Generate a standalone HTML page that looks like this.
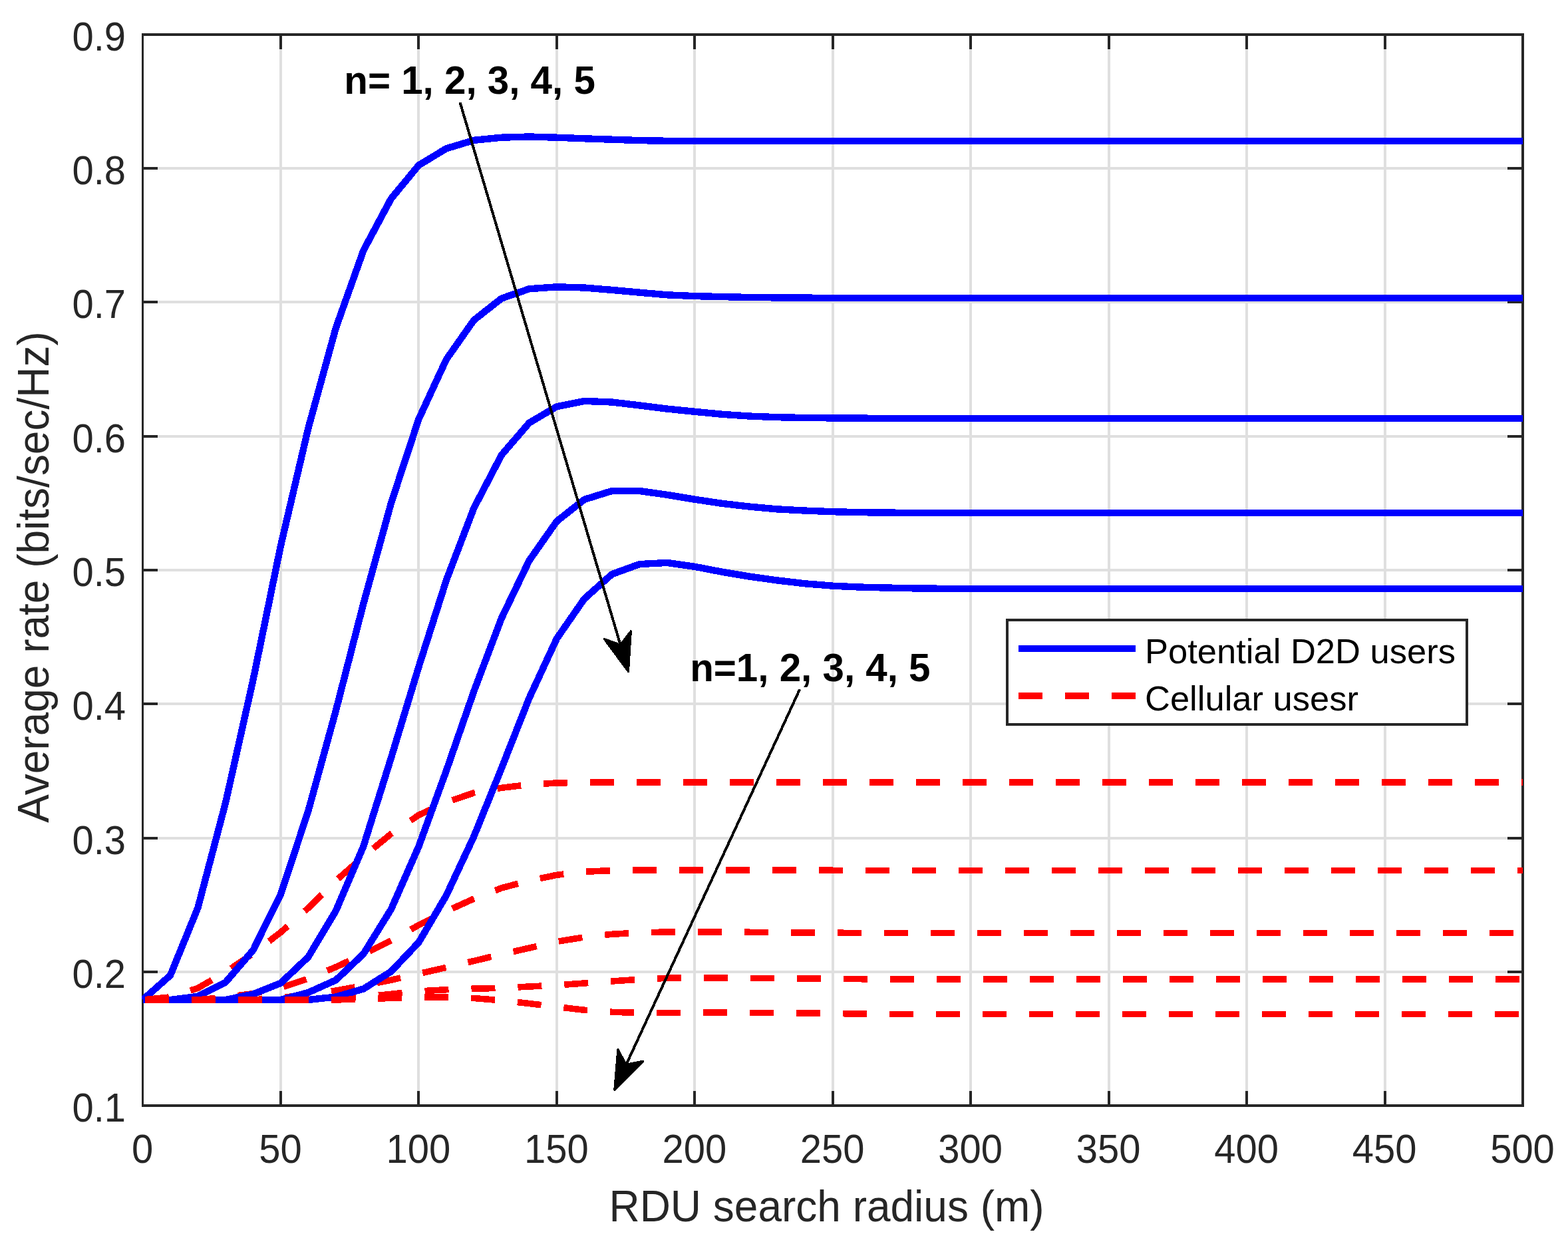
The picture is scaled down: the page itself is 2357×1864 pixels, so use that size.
<!DOCTYPE html>
<html lang="en"><head><meta charset="utf-8">
<title>Average rate vs RDU search radius</title>
<style>
html,body{margin:0;padding:0;background:#fff;}
body{width:2357px;height:1864px;overflow:hidden;}
svg{display:block;}
text{font-family:"Liberation Sans",Arial,Helvetica,sans-serif;}
.tk{font-size:58px;fill:#262626;}
.lb{font-size:64px;fill:#262626;}
.lg{font-size:52.5px;fill:#000;}
.an{font-size:58.3px;font-weight:bold;fill:#000;}
.b{fill:none;stroke:#0000ff;stroke-width:10.4;stroke-linejoin:round;stroke-linecap:butt;}
.r{fill:none;stroke:#ff0000;stroke-width:9.6;stroke-linejoin:round;stroke-linecap:butt;stroke-dasharray:36 34;}
.ar{fill:none;stroke:#000;stroke-width:4;}
.ah{fill:#000;stroke:#000;stroke-width:3;stroke-linejoin:round;}
</style></head><body>
<svg xmlns="http://www.w3.org/2000/svg" width="2357" height="1864" viewBox="0 0 2357 1864">
<rect x="0" y="0" width="2357" height="1864" fill="#ffffff"/>
<defs><clipPath id="cp"><rect x="213" y="50" width="2076" height="1614"/></clipPath></defs>
<g fill="#dfdfdf" shape-rendering="crispEdges">
<rect x="420" y="54" width="4" height="1606"/>
<rect x="627" y="54" width="4" height="1606"/>
<rect x="835" y="54" width="4" height="1606"/>
<rect x="1042" y="54" width="4" height="1606"/>
<rect x="1250" y="54" width="4" height="1606"/>
<rect x="1457" y="54" width="4" height="1606"/>
<rect x="1665" y="54" width="4" height="1606"/>
<rect x="1872" y="54" width="4" height="1606"/>
<rect x="2080" y="54" width="4" height="1606"/>
<rect x="216" y="251" width="2071" height="4"/>
<rect x="216" y="452" width="2071" height="4"/>
<rect x="216" y="654" width="2071" height="4"/>
<rect x="216" y="855" width="2071" height="4"/>
<rect x="216" y="1056" width="2071" height="4"/>
<rect x="216" y="1258" width="2071" height="4"/>
<rect x="216" y="1459" width="2071" height="4"/>
</g>
<g fill="#262626" shape-rendering="crispEdges">
<rect x="213" y="50" width="3" height="1614"/>
<rect x="2287" y="50" width="4" height="1614"/>
<rect x="213" y="50" width="2078" height="4"/>
<rect x="213" y="1660" width="2078" height="4"/>
<rect x="420" y="1640" width="4" height="20"/>
<rect x="420" y="54" width="4" height="20"/>
<rect x="627" y="1640" width="4" height="20"/>
<rect x="627" y="54" width="4" height="20"/>
<rect x="835" y="1640" width="4" height="20"/>
<rect x="835" y="54" width="4" height="20"/>
<rect x="1042" y="1640" width="4" height="20"/>
<rect x="1042" y="54" width="4" height="20"/>
<rect x="1250" y="1640" width="4" height="20"/>
<rect x="1250" y="54" width="4" height="20"/>
<rect x="1457" y="1640" width="4" height="20"/>
<rect x="1457" y="54" width="4" height="20"/>
<rect x="1665" y="1640" width="4" height="20"/>
<rect x="1665" y="54" width="4" height="20"/>
<rect x="1872" y="1640" width="4" height="20"/>
<rect x="1872" y="54" width="4" height="20"/>
<rect x="2080" y="1640" width="4" height="20"/>
<rect x="2080" y="54" width="4" height="20"/>
<rect x="216" y="251" width="21" height="4"/>
<rect x="2266" y="251" width="21" height="4"/>
<rect x="216" y="452" width="21" height="4"/>
<rect x="2266" y="452" width="21" height="4"/>
<rect x="216" y="654" width="21" height="4"/>
<rect x="2266" y="654" width="21" height="4"/>
<rect x="216" y="855" width="21" height="4"/>
<rect x="2266" y="855" width="21" height="4"/>
<rect x="216" y="1056" width="21" height="4"/>
<rect x="2266" y="1056" width="21" height="4"/>
<rect x="216" y="1258" width="21" height="4"/>
<rect x="2266" y="1258" width="21" height="4"/>
<rect x="216" y="1459" width="21" height="4"/>
<rect x="2266" y="1459" width="21" height="4"/>
</g>
<g clip-path="url(#cp)" shape-rendering="crispEdges">
<polyline class="b" points="214.5,1503.0 256.0,1466.2 297.5,1364.5 339.0,1207.0 380.5,1021.9 421.9,820.7 463.4,643.6 504.9,492.8 546.4,376.4 587.9,298.6 629.4,248.4 670.9,223.3 712.4,210.8 753.9,206.7 795.4,205.5 836.9,206.7 878.3,208.3 919.8,209.7 961.3,211.1 1002.8,211.8 1044.3,212.0 1085.8,212.0 1127.3,212.0 1168.8,212.0 1210.3,212.0 1251.8,212.0 1293.2,212.0 1334.7,212.0 1376.2,212.0 1417.7,212.0 1459.2,212.0 1500.7,212.0 1542.2,212.0 1583.7,212.0 1625.2,212.0 1666.7,212.0 1708.1,212.0 1749.6,212.0 1791.1,212.0 1832.6,212.0 1874.1,212.0 1915.6,212.0 1957.1,212.0 1998.6,212.0 2040.1,212.0 2081.6,212.0 2123.0,212.0 2164.5,212.0 2206.0,212.0 2247.5,212.0 2289.0,212.0"/>
<polyline class="r" stroke-dashoffset="66.46" points="214.5,1503.0 256.0,1498.8 297.5,1485.3 339.0,1461.4 380.5,1433.3 421.9,1401.5 463.4,1364.9 504.9,1323.8 546.4,1287.6 587.9,1253.4 629.4,1225.3 670.9,1206.0 712.4,1191.8 753.9,1184.3 795.4,1179.4 836.9,1177.0 878.3,1176.2 919.8,1176.0 961.3,1176.0 1002.8,1176.0 1044.3,1176.0 1085.8,1176.0 1127.3,1176.0 1168.8,1176.0 1210.3,1176.0 1251.8,1176.0 1293.2,1176.0 1334.7,1176.0 1376.2,1176.0 1417.7,1176.0 1459.2,1176.0 1500.7,1176.0 1542.2,1176.0 1583.7,1176.0 1625.2,1176.0 1666.7,1176.0 1708.1,1176.0 1749.6,1176.0 1791.1,1176.0 1832.6,1176.0 1874.1,1176.0 1915.6,1176.0 1957.1,1176.0 1998.6,1176.0 2040.1,1176.0 2081.6,1176.0 2123.0,1176.0 2164.5,1176.0 2206.0,1176.0 2247.5,1176.0 2289.0,1176.0"/>
<polyline class="b" points="214.5,1503.0 256.0,1503.0 297.5,1497.8 339.0,1476.7 380.5,1428.2 421.9,1344.5 463.4,1219.0 504.9,1068.2 546.4,907.2 587.9,756.3 629.4,630.0 670.9,540.3 712.4,481.2 753.9,448.6 795.4,434.3 836.9,431.3 878.3,432.5 919.8,435.9 961.3,439.7 1002.8,443.3 1044.3,445.1 1085.8,446.1 1127.3,447.0 1168.8,447.4 1210.3,447.6 1251.8,448.0 1293.2,448.0 1334.7,448.0 1376.2,448.0 1417.7,448.0 1459.2,448.0 1500.7,448.0 1542.2,448.0 1583.7,448.0 1625.2,448.0 1666.7,448.0 1708.1,448.0 1749.6,448.0 1791.1,448.0 1832.6,448.0 1874.1,448.0 1915.6,448.0 1957.1,448.0 1998.6,448.0 2040.1,448.0 2081.6,448.0 2123.0,448.0 2164.5,448.0 2206.0,448.0 2247.5,448.0 2289.0,448.0"/>
<polyline class="r" stroke-dashoffset="66.51" points="214.5,1503.0 256.0,1503.0 297.5,1503.0 339.0,1499.0 380.5,1493.6 421.9,1484.9 463.4,1471.0 504.9,1453.7 546.4,1434.3 587.9,1413.9 629.4,1390.6 670.9,1369.8 712.4,1351.0 753.9,1334.9 795.4,1323.8 836.9,1315.3 878.3,1310.3 919.8,1308.6 961.3,1307.8 1002.8,1307.8 1044.3,1308.0 1085.8,1308.0 1127.3,1308.0 1168.8,1308.1 1210.3,1308.2 1251.8,1308.3 1293.2,1308.4 1334.7,1308.5 1376.2,1308.5 1417.7,1308.5 1459.2,1308.5 1500.7,1308.5 1542.2,1308.5 1583.7,1308.5 1625.2,1308.5 1666.7,1308.5 1708.1,1308.5 1749.6,1308.5 1791.1,1308.5 1832.6,1308.5 1874.1,1308.5 1915.6,1308.5 1957.1,1308.5 1998.6,1308.5 2040.1,1308.5 2081.6,1308.5 2123.0,1308.5 2164.5,1308.5 2206.0,1308.5 2247.5,1308.5 2289.0,1308.5"/>
<polyline class="b" points="214.5,1503.0 256.0,1503.0 297.5,1503.0 339.0,1503.0 380.5,1494.5 421.9,1477.9 463.4,1438.5 504.9,1369.1 546.4,1272.0 587.9,1139.3 629.4,1002.5 670.9,872.2 712.4,763.6 753.9,684.0 795.4,635.7 836.9,611.2 878.3,602.9 919.8,604.5 961.3,609.4 1002.8,614.6 1044.3,618.8 1085.8,622.8 1127.3,625.6 1168.8,627.2 1210.3,628.0 1251.8,628.4 1293.2,628.6 1334.7,629.0 1376.2,629.0 1417.7,629.0 1459.2,629.0 1500.7,629.0 1542.2,629.0 1583.7,629.0 1625.2,629.0 1666.7,629.0 1708.1,629.0 1749.6,629.0 1791.1,629.0 1832.6,629.0 1874.1,629.0 1915.6,629.0 1957.1,629.0 1998.6,629.0 2040.1,629.0 2081.6,629.0 2123.0,629.0 2164.5,629.0 2206.0,629.0 2247.5,629.0 2289.0,629.0"/>
<polyline class="r" stroke-dashoffset="65.68" points="214.5,1503.0 256.0,1503.0 297.5,1503.0 339.0,1503.0 380.5,1503.0 421.9,1499.6 463.4,1495.7 504.9,1489.1 546.4,1481.5 587.9,1473.2 629.4,1463.8 670.9,1454.3 712.4,1444.5 753.9,1434.5 795.4,1425.1 836.9,1415.5 878.3,1408.8 919.8,1404.3 961.3,1402.0 1002.8,1401.0 1044.3,1400.8 1085.8,1400.9 1127.3,1401.3 1168.8,1401.6 1210.3,1401.9 1251.8,1402.2 1293.2,1402.5 1334.7,1402.5 1376.2,1402.5 1417.7,1402.5 1459.2,1402.5 1500.7,1402.5 1542.2,1402.5 1583.7,1402.5 1625.2,1402.5 1666.7,1402.5 1708.1,1402.5 1749.6,1402.5 1791.1,1402.5 1832.6,1402.5 1874.1,1402.5 1915.6,1402.5 1957.1,1402.5 1998.6,1402.5 2040.1,1402.5 2081.6,1402.5 2123.0,1402.5 2164.5,1402.5 2206.0,1402.5 2247.5,1402.5 2289.0,1402.5"/>
<polyline class="b" points="214.5,1503.0 256.0,1503.0 297.5,1503.0 339.0,1503.0 380.5,1503.0 421.9,1503.0 463.4,1492.0 504.9,1473.3 546.4,1433.8 587.9,1366.8 629.4,1272.5 670.9,1158.5 712.4,1039.0 753.9,929.3 795.4,842.8 836.9,783.6 878.3,750.9 919.8,738.0 961.3,738.0 1002.8,743.8 1044.3,750.7 1085.8,756.9 1127.3,761.7 1168.8,765.4 1210.3,767.6 1251.8,769.2 1293.2,770.2 1334.7,770.6 1376.2,771.0 1417.7,771.0 1459.2,771.0 1500.7,771.0 1542.2,771.0 1583.7,771.0 1625.2,771.0 1666.7,771.0 1708.1,771.0 1749.6,771.0 1791.1,771.0 1832.6,771.0 1874.1,771.0 1915.6,771.0 1957.1,771.0 1998.6,771.0 2040.1,771.0 2081.6,771.0 2123.0,771.0 2164.5,771.0 2206.0,771.0 2247.5,771.0 2289.0,771.0"/>
<polyline class="r" stroke-dashoffset="65.35" points="214.5,1503.0 256.0,1503.0 297.5,1503.0 339.0,1503.0 380.5,1503.0 421.9,1503.0 463.4,1503.0 504.9,1501.5 546.4,1498.5 587.9,1494.3 629.4,1490.0 670.9,1487.7 712.4,1486.2 753.9,1485.3 795.4,1483.0 836.9,1481.0 878.3,1478.0 919.8,1475.0 961.3,1472.2 1002.8,1470.3 1044.3,1469.9 1085.8,1470.0 1127.3,1470.3 1168.8,1470.7 1210.3,1471.0 1251.8,1471.3 1293.2,1471.7 1334.7,1472.0 1376.2,1472.0 1417.7,1472.0 1459.2,1472.0 1500.7,1472.0 1542.2,1472.0 1583.7,1472.0 1625.2,1472.0 1666.7,1472.0 1708.1,1472.0 1749.6,1472.0 1791.1,1472.0 1832.6,1472.0 1874.1,1472.0 1915.6,1472.0 1957.1,1472.0 1998.6,1472.0 2040.1,1472.0 2081.6,1472.0 2123.0,1472.0 2164.5,1472.0 2206.0,1472.0 2247.5,1472.0 2289.0,1472.0"/>
<polyline class="b" points="214.5,1503.0 256.0,1503.0 297.5,1503.0 339.0,1503.0 380.5,1503.0 421.9,1503.0 463.4,1503.0 504.9,1498.5 546.4,1486.5 587.9,1460.4 629.4,1416.6 670.9,1346.0 712.4,1257.2 753.9,1154.8 795.4,1049.6 836.9,960.0 878.3,900.2 919.8,863.2 961.3,848.1 1002.8,845.9 1044.3,851.8 1085.8,859.8 1127.3,866.7 1168.8,872.5 1210.3,877.3 1251.8,880.7 1293.2,882.6 1334.7,883.6 1376.2,884.4 1417.7,884.8 1459.2,885.0 1500.7,885.0 1542.2,885.0 1583.7,885.0 1625.2,885.0 1666.7,885.0 1708.1,885.0 1749.6,885.0 1791.1,885.0 1832.6,885.0 1874.1,885.0 1915.6,885.0 1957.1,885.0 1998.6,885.0 2040.1,885.0 2081.6,885.0 2123.0,885.0 2164.5,885.0 2206.0,885.0 2247.5,885.0 2289.0,885.0"/>
<polyline class="r" stroke-dashoffset="66.31" points="214.5,1503.0 256.0,1503.0 297.5,1503.0 339.0,1503.0 380.5,1503.0 421.9,1503.0 463.4,1503.0 504.9,1503.0 546.4,1501.5 587.9,1500.5 629.4,1499.2 670.9,1499.0 712.4,1500.5 753.9,1503.9 795.4,1508.5 836.9,1513.5 878.3,1518.3 919.8,1521.3 961.3,1522.4 1002.8,1522.5 1044.3,1522.2 1085.8,1522.0 1127.3,1522.3 1168.8,1522.7 1210.3,1523.0 1251.8,1523.5 1293.2,1524.0 1334.7,1524.3 1376.2,1524.5 1417.7,1524.5 1459.2,1524.5 1500.7,1524.5 1542.2,1524.5 1583.7,1524.5 1625.2,1524.5 1666.7,1524.5 1708.1,1524.5 1749.6,1524.5 1791.1,1524.5 1832.6,1524.5 1874.1,1524.5 1915.6,1524.5 1957.1,1524.5 1998.6,1524.5 2040.1,1524.5 2081.6,1524.5 2123.0,1524.5 2164.5,1524.5 2206.0,1524.5 2247.5,1524.5 2289.0,1524.5"/>
</g>
<g class="tk" text-anchor="middle">
<text transform="translate(214.0 1747.8) scale(1 1.045)">0</text>
<text transform="translate(421.4 1747.8) scale(1 1.045)">50</text>
<text transform="translate(628.9 1747.8) scale(1 1.045)">100</text>
<text transform="translate(836.4 1747.8) scale(1 1.045)">150</text>
<text transform="translate(1043.8 1747.8) scale(1 1.045)">200</text>
<text transform="translate(1251.2 1747.8) scale(1 1.045)">250</text>
<text transform="translate(1458.7 1747.8) scale(1 1.045)">300</text>
<text transform="translate(1666.2 1747.8) scale(1 1.045)">350</text>
<text transform="translate(1873.6 1747.8) scale(1 1.045)">400</text>
<text transform="translate(2081.1 1747.8) scale(1 1.045)">450</text>
<text transform="translate(2288.5 1747.8) scale(1 1.045)">500</text>
</g>
<g class="tk" text-anchor="end">
<text transform="translate(189 76.4) scale(1 1.045)">0.9</text>
<text transform="translate(189 277.4) scale(1 1.045)">0.8</text>
<text transform="translate(189 478.4) scale(1 1.045)">0.7</text>
<text transform="translate(189 680.4) scale(1 1.045)">0.6</text>
<text transform="translate(189 881.4) scale(1 1.045)">0.5</text>
<text transform="translate(189 1082.4) scale(1 1.045)">0.4</text>
<text transform="translate(189 1284.4) scale(1 1.045)">0.3</text>
<text transform="translate(189 1485.4) scale(1 1.045)">0.2</text>
<text transform="translate(189 1686.4) scale(1 1.045)">0.1</text>
</g>
<text class="lb" text-anchor="middle" transform="translate(1242.5 1835.8) scale(1 1.045)">RDU search radius (m)</text>
<text class="lb" text-anchor="middle" transform="translate(73.3 867.5) rotate(-90) scale(1 1.045)">Average rate (bits/sec/Hz)</text>
<g shape-rendering="crispEdges">
<rect x="1512" y="930" width="695" height="161" fill="#262626"/>
<rect x="1516" y="934" width="687" height="153" fill="#ffffff"/>
<rect x="1531" y="970" width="176" height="10" fill="#0000ff"/>
<rect x="1531" y="1041" width="36" height="10" fill="#ff0000"/>
<rect x="1601" y="1041" width="36" height="10" fill="#ff0000"/>
<rect x="1671" y="1041" width="36" height="10" fill="#ff0000"/>
</g>
<text class="lg" x="1721" y="997">Potential D2D users</text>
<text class="lg" x="1721" y="1068">Cellular usesr</text>
<text class="an" x="517.3" y="141.2">n= 1, 2, 3, 4, 5</text>
<text class="an" x="1037.2" y="1024">n=1, 2, 3, 4, 5</text>
<g shape-rendering="crispEdges">
<line class="ar" x1="691.5" y1="153.9" x2="932.6" y2="969.3"/>
<polygon class="ah" points="944.5,1009.6 908.1,960.4 932.6,969.3 948.4,948.5"/>
<line class="ar" x1="1202.2" y1="1036.3" x2="941.3" y2="1600.3"/>
<polygon class="ah" points="923.7,1638.4 928.8,1577.4 941.3,1600.3 966.9,1595.0"/>
</g>
</svg>
</body></html>
